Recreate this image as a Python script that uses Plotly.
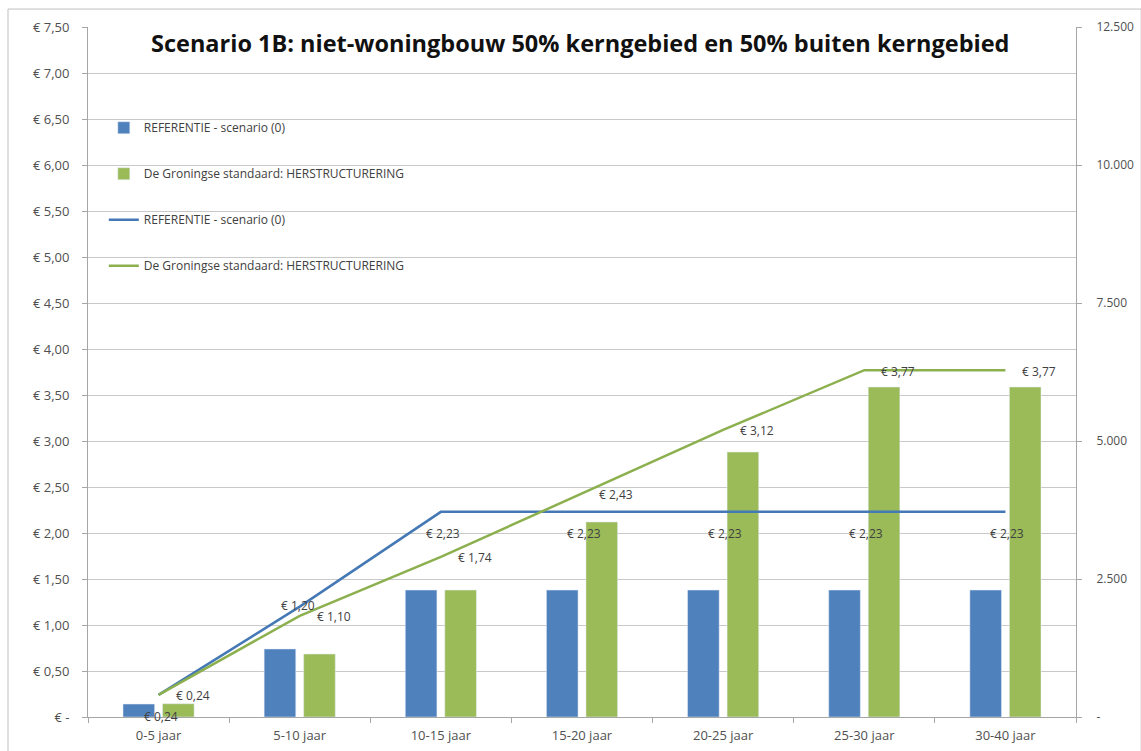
import plotly.graph_objects as go

# Periods on the category axis
periods = ["0-5 jaar", "5-10 jaar", "10-15 jaar", "15-20 jaar",
           "20-25 jaar", "25-30 jaar", "30-40 jaar"]

# Bar series (right-hand axis)
bars_ref = [235, 1232, 2300, 2300, 2300, 2300, 2300]
bars_gro = [240, 1141, 2300, 3533, 4800, 5978, 5978]

# Line series in euro (left-hand axis)
line_ref = [0.24, 1.20, 2.23, 2.23, 2.23, 2.23, 2.23]
line_gro = [0.24, 1.10, 1.74, 2.43, 3.12, 3.77, 3.77]

# Axis ticks
left_vals = [0, 0.5, 1, 1.5, 2, 2.5, 3, 3.5, 4, 4.5, 5, 5.5, 6, 6.5, 7, 7.5]
left_text = ["€ -", "€ 0,50", "€ 1,00", "€ 1,50", "€ 2,00", "€ 2,50", "€ 3,00",
             "€ 3,50", "€ 4,00", "€ 4,50", "€ 5,00", "€ 5,50", "€ 6,00",
             "€ 6,50", "€ 7,00", "€ 7,50"]
right_vals = [0, 2500, 5000, 7500, 10000, 12500]
right_text = ["-", "2.500", "5.000", "7.500", "10.000", "12.500"]

name_ref = "REFERENTIE - scenario (0)"
name_gro = "De Groningse standaard: HERSTRUCTURERING"

BLUE = "#4f81bd"
GREEN = "#9bbb59"
LINE_BLUE = "#4579b5"
LINE_GREEN = "#8cb04e"
TXT = "#404040"
AXIS_TXT = "#505050"
GRID = "#c9c9c9"
FONT = "Open Sans"


def euro(v):
    return "€ " + f"{v:.2f}".replace(".", ",")


fig = go.Figure()

fig.add_trace(go.Bar(x=periods, y=bars_ref, name=name_ref, marker_color=BLUE,
                     legendgroup="a", yaxis="y"))
fig.add_trace(go.Bar(x=periods, y=bars_gro, name=name_gro, marker_color=GREEN,
                     legendgroup="b", yaxis="y"))
fig.add_trace(go.Scatter(x=periods, y=line_ref, name=name_ref, mode="lines",
                         line=dict(color=LINE_BLUE, width=2.5),
                         legendgroup="c", yaxis="y2"))
fig.add_trace(go.Scatter(x=periods, y=line_gro, name=name_gro, mode="lines",
                         line=dict(color=LINE_GREEN, width=2.5),
                         legendgroup="d", yaxis="y2"))

# Data labels for the line series
annotations = []
for i, (p, v) in enumerate(zip(periods, line_ref)):
    centred = (i == 1)
    annotations.append(dict(x=p, y=v, xref="x", yref="y2", text=euro(v),
                            showarrow=False, xanchor="center", yanchor="middle",
                            xshift=-2 if centred else 2,
                            yshift=1 if centred else -22,
                            font=dict(family=FONT, size=12, color=TXT)))
for p, v in zip(periods, line_gro):
    annotations.append(dict(x=p, y=v, xref="x", yref="y2", text=euro(v),
                            showarrow=False, xanchor="left", yanchor="middle",
                            xshift=15, yshift=-1,
                            font=dict(family=FONT, size=12, color=TXT)))

annotations.append(dict(x=0.5, y=1.0, xref="paper", yref="paper",
                        text="<b>Scenario 1B: niet-woningbouw 50% kerngebied en 50% buiten kerngebied</b>",
                        showarrow=False, xanchor="center", yanchor="top",
                        xshift=-2, yshift=2,
                        font=dict(family=FONT, size=23.5, color="#111111")))

fig.update_layout(
    width=1141, height=751,
    margin=dict(l=88, r=65, t=27, b=34),
    paper_bgcolor="white", plot_bgcolor="white",
    font=dict(family=FONT, size=12, color=TXT),
    barmode="group", bargap=0.44, bargroupgap=0.2,
    showlegend=True,
    legend=dict(x=0.016, y=0.875, xanchor="left", yanchor="top",
                bgcolor="rgba(0,0,0,0)", traceorder="grouped",
                tracegroupgap=27, itemwidth=30,
                font=dict(family=FONT, size=12, color=TXT)),
    xaxis=dict(type="category", showline=True, linecolor="#a6a6a6",
               ticks="outside", tickson="boundaries", ticklen=5,
               tickcolor="#a6a6a6", showgrid=False, ticklabelstandoff=6,
               automargin=False,
               tickfont=dict(family=FONT, size=13, color=AXIS_TXT)),
    yaxis=dict(side="right", range=[0, 12500], tickvals=right_vals,
               ticktext=right_text, showgrid=False, zeroline=False,
               showline=True, linecolor="#a6a6a6", ticks="outside",
               ticklen=5, tickcolor="#a6a6a6", ticklabelstandoff=12,
               automargin=False,
               tickfont=dict(family=FONT, size=12, color=AXIS_TXT)),
    yaxis2=dict(side="left", overlaying="y", range=[0, 7.5],
                tickvals=left_vals, ticktext=left_text, showgrid=True,
                gridcolor=GRID, gridwidth=1, zeroline=False,
                showline=True, linecolor="#a6a6a6", ticks="outside",
                ticklen=5, tickcolor="#a6a6a6", ticklabelstandoff=10,
                automargin=False,
                tickfont=dict(family=FONT, size=13, color=AXIS_TXT)),
    annotations=annotations,
    shapes=[dict(type="rect", xref="paper", yref="paper",
                 x0=-80 / 988, x1=1.066, y0=-0.06, y1=1.026,
                 line=dict(color="#bfbfbf", width=1), layer="below")],
)

fig.write_html("out.html")
